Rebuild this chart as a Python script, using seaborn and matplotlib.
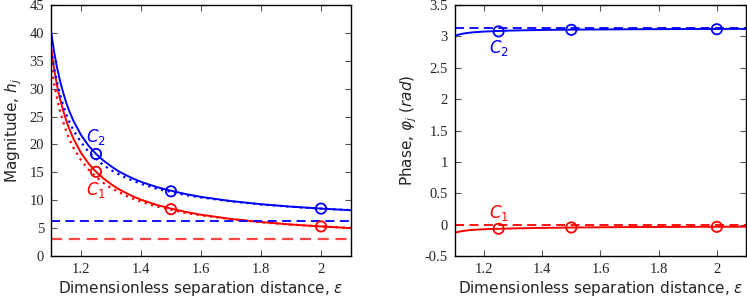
import numpy as np
import pandas as pd
import matplotlib
matplotlib.use("Agg")
import matplotlib.pyplot as plt
import seaborn as sns
from matplotlib.ticker import FuncFormatter

# ---------------- data ----------------
eps = [1.1, 1.11, 1.12, 1.13, 1.14, 1.15, 1.16, 1.175, 1.2, 1.225, 1.25, 1.275,
       1.3, 1.325, 1.35, 1.375, 1.4, 1.45, 1.5, 1.55, 1.6, 1.7, 1.8, 1.9, 2.0, 2.1]
mag_c2 = [40.3, 36.7, 33.8, 31.4, 29.4, 27.6, 26.1, 24.2, 21.7, 19.8, 18.3, 17.1,
          16.1, 15.2, 14.5, 13.85, 13.3, 12.4, 11.7, 11.1, 10.6, 9.85, 9.29, 8.85, 8.5, 8.21]
mag_c1 = [37.4, 33.6, 30.6, 28.2, 26.2, 24.4, 22.9, 21.0, 18.5, 16.6, 15.1, 13.9,
          12.9, 12.0, 11.3, 10.65, 10.1, 9.2, 8.5, 7.9, 7.4, 6.65, 6.09, 5.65, 5.3, 5.01]
mag_c2_dot = [37.0, 33.8, 31.2, 29.0, 27.1, 25.5, 24.2, 22.5, 20.4, 18.7, 17.4, 16.3,
              15.4, 14.7, 14.0, 13.45, 12.95, 12.1, 11.5, 10.9, 10.5, 9.8, 9.24, 8.83, 8.5, 8.23]
mag_c1_dot = [34.5, 31.0, 28.3, 26.0, 24.1, 22.5, 21.1, 19.4, 17.2, 15.5, 14.2, 13.1,
              12.2, 11.5, 10.8, 10.25, 9.75, 8.9, 8.3, 7.7, 7.3, 6.6, 6.04, 5.63, 5.3, 5.03]
eps_marks = [1.25, 1.5, 2.0]
mag_c2_marks = [18.3, 11.6, 8.5]
mag_c1_marks = [15.1, 8.4, 5.3]
eps_limit = [1.1, 2.1]
mag_c2_limit = [6.28, 6.28]
mag_c1_limit = [3.14, 3.14]

phase_c2 = [3.01, 3.025, 3.037, 3.046, 3.053, 3.059, 3.064, 3.07, 3.077, 3.082, 3.087, 3.091,
            3.094, 3.097, 3.099, 3.101, 3.103, 3.106, 3.108, 3.11, 3.111, 3.114, 3.116, 3.118,
            3.119, 3.12]
phase_c1 = [-0.13, -0.117, -0.107, -0.099, -0.093, -0.088, -0.084, -0.079, -0.073, -0.069,
            -0.066, -0.063, -0.060, -0.058, -0.056, -0.054, -0.052, -0.049, -0.046, -0.044,
            -0.042, -0.039, -0.037, -0.035, -0.034, -0.033]
phase_c2_marks = [3.08, 3.105, 3.115]
phase_c1_marks = [-0.065, -0.045, -0.035]
phase_c2_limit = [3.1416, 3.1416]
phase_c1_limit = [0.0, 0.0]

# ---------------- style ----------------
sns.set_style("ticks")
plt.rcParams["font.family"] = ["DejaVu Sans"]
plt.rcParams["mathtext.fontset"] = "dejavusans"

BLUE = "#0000ff"
RED = "#ff0000"

fig = plt.figure(figsize=(7.47, 2.97), dpi=100)
axL = fig.add_axes([0.0683, 0.138, 0.4016, 0.845])
axR = fig.add_axes([0.609, 0.138, 0.3896, 0.845])

fmt = FuncFormatter(lambda v, p: f"{v:g}")


def style_axis(ax):
    ax.tick_params(direction="in", top=True, right=True, length=4, width=0.8,
                   labelsize=10.5, color="#555555", pad=5)
    for lab in ax.get_xticklabels() + ax.get_yticklabels():
        lab.set_fontfamily("Liberation Serif")
    for s in ax.spines.values():
        s.set_color("black")
        s.set_linewidth(1.0)
    ax.xaxis.set_major_formatter(fmt)
    ax.yaxis.set_major_formatter(fmt)


MS = 55

# ---- Left: magnitude ----
sns.lineplot(x=eps, y=mag_c2, ax=axL, color=BLUE, lw=1.4)
sns.lineplot(x=eps, y=mag_c1, ax=axL, color=RED, lw=1.4)
sns.lineplot(x=eps, y=mag_c2_dot, ax=axL, color=BLUE, lw=1.6, linestyle=(0, (1, 2)))
sns.lineplot(x=eps, y=mag_c1_dot, ax=axL, color=RED, lw=1.6, linestyle=(0, (1, 2)))
sns.lineplot(x=eps_limit, y=mag_c2_limit, ax=axL, color=BLUE, lw=1.3, linestyle=(0, (5, 3)))
sns.lineplot(x=eps_limit, y=mag_c1_limit, ax=axL, color="#ff4444", lw=1.6, linestyle=(0, (5, 3)))
sns.scatterplot(x=eps_marks, y=mag_c2_marks, ax=axL, s=MS, facecolor="none",
                edgecolor=BLUE, linewidth=1.3, zorder=5)
sns.scatterplot(x=eps_marks, y=mag_c1_marks, ax=axL, s=MS, facecolor="none",
                edgecolor=RED, linewidth=1.3, zorder=5)
axL.set_xlim(1.1, 2.1)
axL.set_ylim(0, 45)
axL.set_xticks([1.2, 1.4, 1.6, 1.8, 2.0])
axL.set_yticks(np.arange(0, 46, 5))
axL.set_xlabel(r"Dimensionless separation distance, $\varepsilon$", fontsize=11, labelpad=2)
axL.set_ylabel(r"Magnitude, $h_j$", fontsize=11, labelpad=4)
axL.text(1.25, 21.4, r"$C_2$", color=BLUE, fontsize=12, ha="center", va="center")
axL.text(1.25, 11.8, r"$C_1$", color=RED, fontsize=12, ha="center", va="center")
style_axis(axL)

# ---- Right: phase ----
sns.lineplot(x=eps, y=phase_c2, ax=axR, color=BLUE, lw=1.4)
sns.lineplot(x=eps, y=phase_c1, ax=axR, color=RED, lw=1.4)
sns.lineplot(x=eps_limit, y=phase_c2_limit, ax=axR, color=BLUE, lw=1.3, linestyle=(0, (5, 3)))
sns.lineplot(x=eps_limit, y=phase_c1_limit, ax=axR, color=RED, lw=1.3, linestyle=(0, (5, 3)))
sns.scatterplot(x=eps_marks, y=phase_c2_marks, ax=axR, s=MS, facecolor="none",
                edgecolor=BLUE, linewidth=1.3, zorder=5)
sns.scatterplot(x=eps_marks, y=phase_c1_marks, ax=axR, s=MS, facecolor="none",
                edgecolor=RED, linewidth=1.3, zorder=5)
axR.set_xlim(1.1, 2.1)
axR.set_ylim(-0.5, 3.5)
axR.set_xticks([1.2, 1.4, 1.6, 1.8, 2.0])
axR.set_yticks(np.arange(-0.5, 3.51, 0.5))
axR.set_xlabel(r"Dimensionless separation distance, $\varepsilon$", fontsize=11, labelpad=2)
axR.set_ylabel(r"Phase, $\varphi_j$ $(rad)$", fontsize=11, labelpad=4)
axR.text(1.25, 2.81, r"$C_2$", color=BLUE, fontsize=12, ha="center", va="center")
axR.text(1.25, 0.19, r"$C_1$", color=RED, fontsize=12, ha="center", va="center")
style_axis(axR)

fig.savefig("out.png", dpi=100)
